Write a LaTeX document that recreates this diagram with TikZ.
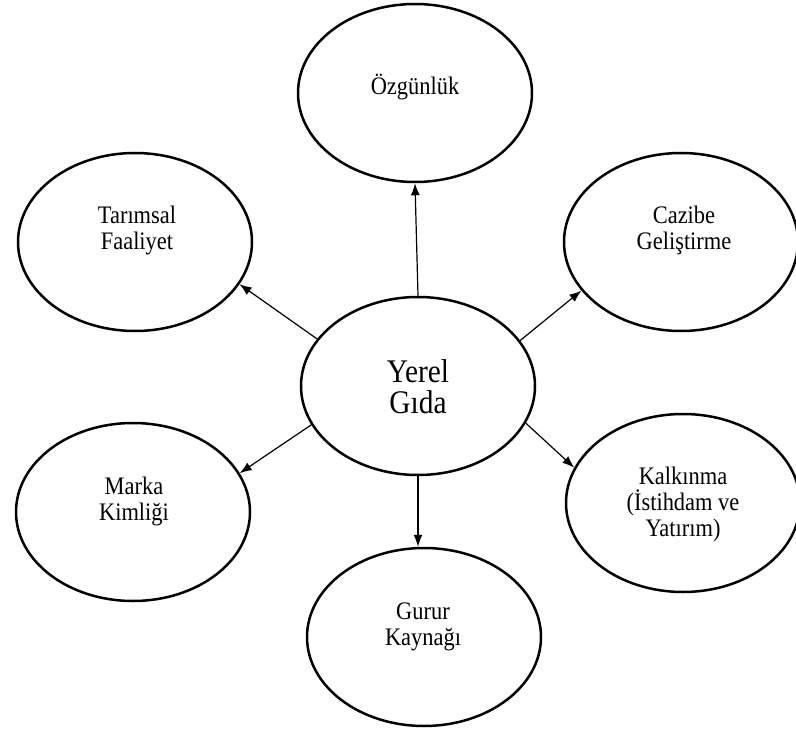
\documentclass[tikz,border=0pt]{standalone}
\usepackage{fontspec}
\setmainfont{Liberation Serif}
\newfontfamily\tallserif[FakeStretch=0.89]{Liberation Serif}
\usetikzlibrary{shapes.geometric,arrows.meta}
\begin{document}
\begin{tikzpicture}[x=1pt, y=1pt,
		blob/.style={ellipse, draw=black, line width=2.5pt, minimum width=234pt, minimum height=178pt, inner sep=0pt},
		txt/.style={align=center, anchor=base, inner sep=0pt, font=\tallserif\fontsize{25.2}{26}\selectfont},
		bigtxt/.style={align=center, anchor=base, inner sep=0pt, font=\tallserif\fontsize{33}{31}\selectfont},
		link/.style={line width=1.2pt, -{Latex[length=12pt, width=9pt]}}]
			\useasboundingbox (0,0) rectangle (796,-733);
			\node[blob] (Y) at (418, -386) {};
			\node[blob] (O) at (415, -93) {};
			\node[blob] (T) at (135, -242) {};
			\node[blob] (C) at (681, -242) {};
			\node[blob] (M) at (133, -512) {};
			\node[blob] (G) at (424, -637) {};
			\node[blob] (K) at (683, -503) {};
			\node[bigtxt] (Ytxt) at (418, -413) {Yerel\\Gıda};
			\node[txt] (Otxt) at (415, -95) {Özgünlük};
			\node[txt] (Ttxt) at (137, -250) {Tarımsal\\Faaliyet};
			\node[txt] (Ctxt) at (684, -250) {Cazibe\\Geliştirme};
			\node[txt] (Mtxt) at (134, -520) {Marka\\Kimliği};
			\node[txt] (Gtxt) at (423, -645) {Gurur\\Kaynağı};
			\node[txt] (Ktxt) at (683, -536) {Kalkınma\\(İstihdam ve\\Yatırım)};
			\draw[link] (Y.north) -- (O.south);
			\draw[link] (Y.155) -- (T.338);
			\draw[link] (Y.24) -- (C.206);
			\draw[link] (Y.200) -- (M.20);
			\draw[link] (Y.341) -- (K.162);
			\draw[link] (Y.south) -- (Y.south |- G.north);
	\end{tikzpicture}
\end{document}
